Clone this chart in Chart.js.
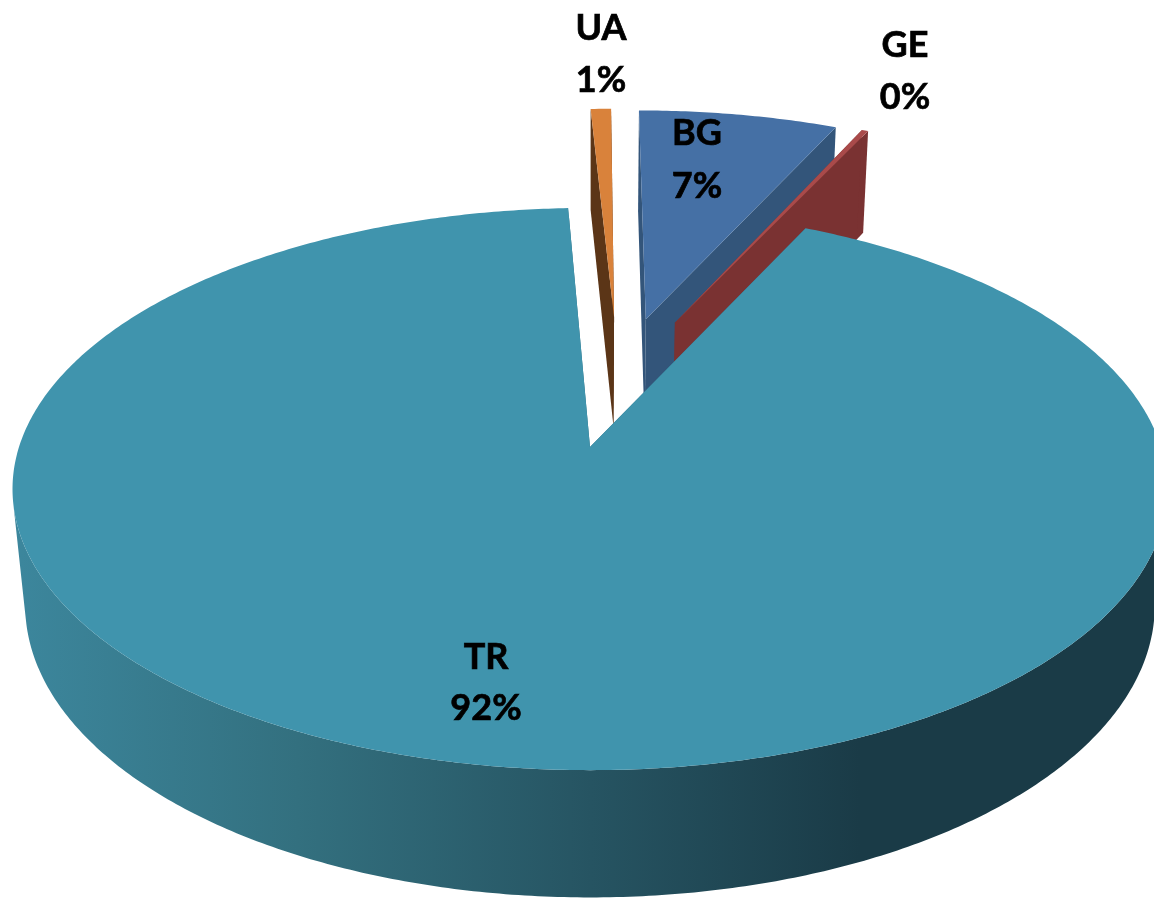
<!DOCTYPE html>
<html><head><meta charset="utf-8">
<style>html,body{margin:0;padding:0;background:#fff}canvas{display:block}</style>
<script src="https://cdn.jsdelivr.net/npm/chart.js@4"></script>
</head><body><canvas id="c" width="1154" height="898"></canvas>
<script>
const categories = ["BG","GE","TR","UA"];
const shares = [6.83,0.22,92.25,0.70];
const percentLabels = ["7%","0%","92%","1%"];
const explode = [153,153,0,153];
const topColors = ["#4570A5","#A94A4A","#4094AD","#D9823B"];
const faceColors = ["#33557A","#7A3232","#2C6A7E","#5B3517"];
const labelCenters = [[697,133,186],[905,45,97],[486,657,708],[601,28,80]];

// Perspective of the tilted pie: plane coordinates (unit circle) to screen
const P = {x0:590,a:571,e:447,d:208,g:-0.1495,k:0.022,h:128};
function proj(u,v,z){
  const w = 1 + P.g*v + P.k*z;
  return [P.x0 + P.a*u/w, (P.e + P.d*v + P.h*z)/w];
}
function poly(ctx,pts,fill){
  ctx.beginPath();
  pts.forEach((p,i)=> i?ctx.lineTo(p[0],p[1]):ctx.moveTo(p[0],p[1]));
  ctx.closePath();
  ctx.fillStyle = fill; ctx.fill();
}
const pie3d = {
  id:'pie3d',
  beforeDatasetDraw(chart,args){
    const ctx = chart.ctx, meta = args.meta;
    const wallGrad = ctx.createLinearGradient(20,0,860,0);
    wallGrad.addColorStop(0,'#3C869C');
    wallGrad.addColorStop(0.33,'#33707F');
    wallGrad.addColorStop(0.68,'#265462');
    wallGrad.addColorStop(1,'#1A3B47');
    const order = meta.data.map((_,i)=>i).sort((a,b)=>explode[b]-explode[a]);
    order.forEach(i=>{
      const arc = meta.data[i];
      const s = arc.startAngle, e = arc.endAngle, R = arc.outerRadius;
      const off = arc.options.offset/R;
      let mid = (s+e)/2 + Math.PI/2;
      if(mid>Math.PI) mid -= 2*Math.PI;
      const dir = 0.1 + 0.5*mid - Math.PI/2;
      const cx = off*Math.cos(dir), cy = off*Math.sin(dir);
      const n = Math.max(2,Math.ceil((e-s)/0.01));
      const rimAngle = j => s+(e-s)*j/n;
      const rim = z => Array.from({length:n+1},(_,j)=>{
        const a = rimAngle(j);
        return proj(cx+Math.cos(a),cy+Math.sin(a),z);
      });
      const t = rim(0), b = rim(1);
      const at = proj(cx,cy,0), ab = proj(cx,cy,1);
      const face = faceColors[i];
      ctx.save();
      poly(ctx,[at,t[n],b[n],ab],face);
      poly(ctx,[at,t[0],b[0],ab],face);
      // outer wall: only the part turned towards the viewer
      const tf=[], bf=[];
      for(let j=0;j<n;j++){
        const dx=t[j+1][0]-t[j][0], dy=t[j+1][1]-t[j][1];
        const hx=b[j][0]-t[j][0], hy=b[j][1]-t[j][1];
        if(dx*hy-dy*hx<0){ tf.push(t[j],t[j+1]); bf.push(b[j],b[j+1]); }
      }
      if(tf.length) poly(ctx,tf.concat(bf.reverse()), explode[i]===0?wallGrad:face);
      poly(ctx,[at,...t],arc.options.backgroundColor);
      ctx.restore();
    });
    return false;
  },
  afterDatasetsDraw(chart){
    const ctx = chart.ctx;
    ctx.save();
    ctx.fillStyle='#000';
    ctx.strokeStyle='#000';
    ctx.lineWidth=0.7;
    ctx.font='bold 36px Lato';
    ctx.textAlign='center';
    ctx.textBaseline='middle';
    categories.forEach((c,i)=>{
      const [x,y1,y2]=labelCenters[i];
      ctx.fillText(c,x,y1); ctx.strokeText(c,x,y1);
      ctx.fillText(percentLabels[i],x,y2); ctx.strokeText(percentLabels[i],x,y2);
    });
    ctx.restore();
  }
};
new Chart(document.getElementById('c'),{
  type:'pie',
  data:{labels:categories,datasets:[{data:shares,backgroundColor:topColors,offset:explode,borderWidth:0}]},
  options:{responsive:false,animation:false,radius:300,
    layout:{padding:0},events:[],
    plugins:{legend:{display:false},tooltip:{enabled:false}}},
  plugins:[pie3d]
});
</script></body></html>
